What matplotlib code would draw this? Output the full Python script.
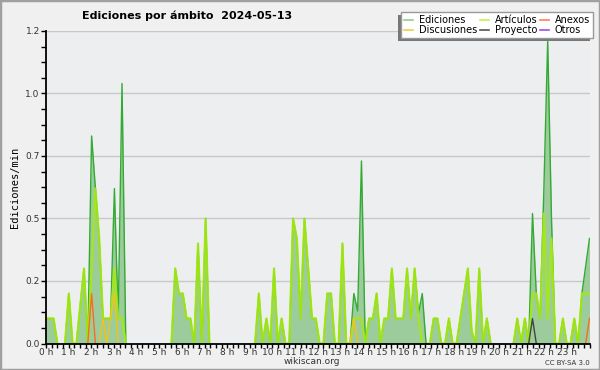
# Ediciones por ámbito, wikiscan style chart
import numpy as np
import matplotlib
matplotlib.use("Agg")
import matplotlib.pyplot as plt
from matplotlib.lines import Line2D
from matplotlib.patches import Rectangle

# 10-minute buckets, 6 per hour (edits per minute)
ediciones = [
    0.1, 0.1, 0.1, 0, 0, 0,
    0.2, 0, 0, 0.15, 0.3, 0,
    0.83, 0.62, 0.42, 0.1, 0.1, 0.1,
    0.62, 0.1, 1.04, 0, 0, 0,
    0, 0, 0, 0, 0, 0,
    0, 0, 0, 0, 0.3, 0.2,
    0.2, 0.1, 0.1, 0, 0.4, 0,
    0.5, 0, 0, 0, 0, 0,
    0, 0, 0, 0, 0, 0,
    0, 0, 0.2, 0, 0.1, 0,
    0.3, 0, 0.1, 0, 0, 0.5,
    0.42, 0.1, 0.5, 0.3, 0.1, 0.1,
    0, 0, 0.2, 0.2, 0, 0,
    0.4, 0, 0, 0.2, 0.13, 0.73,
    0, 0.1, 0.1, 0.2, 0, 0.1,
    0.1, 0.3, 0.1, 0.1, 0.1, 0.3,
    0.1, 0.3, 0.12, 0.2, 0, 0,
    0.1, 0.1, 0, 0, 0.1, 0,
    0, 0.1, 0.2, 0.3, 0.05, 0,
    0.3, 0, 0.1, 0, 0, 0,
    0, 0, 0, 0, 0.1, 0,
    0.1, 0, 0.52, 0.2, 0.1, 0.62,
    1.21, 0.5, 0, 0, 0.1, 0,
    0, 0.1, 0, 0.2, 0.31, 0.42,
]
articulos = [
    0.1, 0.1, 0.1, 0, 0, 0,
    0.2, 0, 0, 0.15, 0.3, 0,
    0.3, 0.62, 0.42, 0.1, 0.1, 0.1,
    0.3, 0.1, 0.1, 0, 0, 0,
    0, 0, 0, 0, 0, 0,
    0, 0, 0, 0, 0.3, 0.2,
    0.2, 0.1, 0.1, 0, 0.4, 0,
    0.5, 0, 0, 0, 0, 0,
    0, 0, 0, 0, 0, 0,
    0, 0, 0.2, 0, 0.1, 0,
    0.3, 0, 0.1, 0, 0, 0.5,
    0.42, 0.1, 0.5, 0.3, 0.1, 0.1,
    0, 0, 0.2, 0.2, 0, 0,
    0.4, 0, 0, 0.1, 0.1, 0.1,
    0, 0.1, 0.1, 0.2, 0, 0.1,
    0.1, 0.3, 0.1, 0.1, 0.1, 0.3,
    0.1, 0.3, 0.1, 0, 0, 0,
    0.1, 0.1, 0, 0, 0.1, 0,
    0, 0.1, 0.2, 0.3, 0.05, 0,
    0.3, 0, 0.1, 0, 0, 0,
    0, 0, 0, 0, 0.1, 0,
    0.1, 0, 0.2, 0.2, 0.1, 0.52,
    0.1, 0.42, 0, 0, 0.1, 0,
    0, 0.1, 0, 0.2, 0.2, 0.2,
]
# sparse series: bucket -> value
discusiones = {15: 0.1, 17: 0.1, 18: 0.2, 81: 0.1}
anexos = {12: 0.2, 143: 0.1}
proyecto = {128: 0.1}
otros = {}

hour_labels = [f"{h} h" for h in range(24)]
y_labels = ["0.0", "0.2", "0.5", "0.7", "1.0", "1.2"]


def dense(d, n=144):
    arr = np.zeros(n)
    for k, v in d.items():
        arr[k] = v
    return arr


def hide_flat_zero(vals):
    # drop segments lying on the baseline so they don't show over the axis
    v = np.asarray(vals, dtype=float).copy()
    nz = v != 0
    keep = nz.copy()
    keep[1:] |= nz[:-1]
    keep[:-1] |= nz[1:]
    v[~keep] = np.nan
    return v


n = len(ediciones)
x = np.linspace(0, 24, n)

fig = plt.figure(figsize=(6, 3.7), dpi=100, facecolor="#f0f0f0")
ax = fig.add_axes([46 / 600, 26.5 / 370, 543.5 / 600, 312.5 / 370])
ax.set_facecolor("#edeef0")

ax.fill_between(x, ediciones, color="#9ccb9c", lw=0, zorder=2)
ax.plot(x, hide_flat_zero(ediciones), color="#33aa33", lw=1.0, zorder=3)
ax.plot(x, hide_flat_zero(articulos), color="#a6ea10", lw=1.6, alpha=0.9, zorder=4)
ax.plot(x, hide_flat_zero(dense(discusiones)), color="#f2c318", lw=1.0, zorder=5)
ax.plot(x, hide_flat_zero(dense(anexos)), color="#ff6a20", lw=1.0, zorder=5)
ax.plot(x, hide_flat_zero(dense(proyecto)), color="#444444", lw=1.0, zorder=5)
ax.plot(x, hide_flat_zero(dense(otros)), color="#9a50e8", lw=1.0, zorder=5)

ax.set_xlim(0, 24)
ax.set_ylim(0, 1.25)
ax.set_xticks(range(24))
ax.set_xticklabels(hour_labels)
ax.set_xticks(np.arange(0, 24.01, 0.25), minor=True)
ax.set_yticks(np.arange(0, 1.26, 0.25))
ax.set_yticklabels(y_labels)
ax.set_yticks(np.arange(0, 1.26, 0.0625), minor=True)
ax.tick_params(which="both", direction="out", length=3.5, width=1, color="black",
               labelsize=6.5, labelcolor="#333333", pad=1)
ax.tick_params(axis="x", which="both", length=3, pad=0)
ax.grid(axis="y", color="#c8c8c8", lw=1)
ax.set_axisbelow(True)
for s in ["top", "right"]:
    ax.spines[s].set_visible(False)
for s in ["left", "bottom"]:
    ax.spines[s].set_color("black")
    ax.spines[s].set_linewidth(1.3)
    ax.spines[s].set_zorder(10)

ax.set_ylabel("Ediciones/min", fontsize=7.5, family="DejaVu Sans Mono", labelpad=4)

fig.text(0.312, 0.958, "Ediciones por ámbito  2024-05-13", fontsize=8, fontweight="bold",
         ha="center", va="center")
fig.text(0.52, 0.022, "wikiscan.org", fontsize=6.5, ha="center", va="center", color="#333333")
fig.text(0.983, 0.02, "CC BY-SA 3.0", fontsize=5, ha="right", va="center", color="#333333")

handles = [
    Line2D([], [], color="#8ed08e", lw=1.2),
    Line2D([], [], color="#f2d040", lw=1.2),
    Line2D([], [], color="#c8f050", lw=1.2),
    Line2D([], [], color="#555555", lw=1.2),
    Line2D([], [], color="#ff7f50", lw=1.2),
    Line2D([], [], color="#9a50e8", lw=1.2),
]
names = ["Ediciones", "Discusiones", "Artículos", "Proyecto", "Anexos", "Otros"]
leg = fig.legend(handles, names, ncol=3, loc="upper right",
                 bbox_to_anchor=(593 / 600, 1 - 12 / 370), borderaxespad=0,
                 fontsize=7, handlelength=0.9, handletextpad=0.6, columnspacing=0.3,
                 labelspacing=0.05, borderpad=0.3, fancybox=False,
                 edgecolor="#999999", framealpha=1, facecolor="white")
leg.set_zorder(20)

fig.canvas.draw()
bb = leg.get_window_extent().transformed(fig.transFigure.inverted())
shadow = Rectangle((bb.x0 - 3 / 600, bb.y0 - 3 / 370), bb.width, bb.height,
                   transform=fig.transFigure, facecolor="#777777", edgecolor="none", zorder=19)
fig.add_artist(shadow)

# outer frame
fig.add_artist(Rectangle((0, 0), 1, 1, transform=fig.transFigure, fill=False,
                         edgecolor="#a0a0a0", lw=2.5, zorder=30))

fig.savefig("out.png", dpi=100, facecolor=fig.get_facecolor())
plt.close(fig)
